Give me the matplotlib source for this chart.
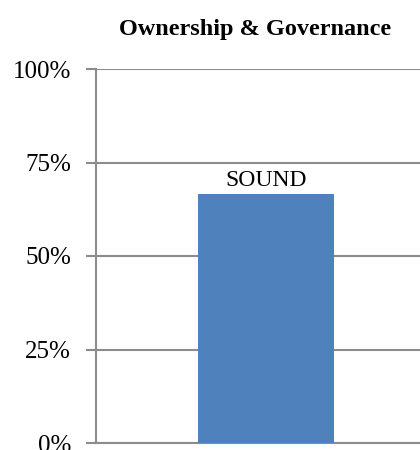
import matplotlib
matplotlib.use("Agg")
import matplotlib.pyplot as plt
from matplotlib.ticker import FuncFormatter

categories = ["Ownership & Governance"]
values = [66.7]
bar_labels = ["SOUND"]
yticks = [0, 25, 50, 75, 100]

plt.rcParams['font.family'] = ['Liberation Serif', 'DejaVu Serif']

fig = plt.figure(figsize=(4.2, 4.5), dpi=100)
ax = fig.add_axes([96/420, 1-443/450, 340/420, (443-69)/450])

grid_c = '#8c8c8c'
bars = ax.bar(range(len(values)), values, width=0.4, color='#4F81BD', zorder=3)
for b, lab in zip(bars, bar_labels):
    ax.text(b.get_x()+b.get_width()/2, b.get_height()+0.6, lab, ha='center', va='bottom',
            fontsize=17, color='#000000')

ax.set_xlim(-0.5, 0.5)
ax.set_ylim(0, 100)
ax.set_yticks(yticks)
ax.yaxis.set_major_formatter(FuncFormatter(lambda v, p: f"{int(v)}%"))
ax.set_xticks([])
ax.yaxis.grid(True, color=grid_c, linewidth=1.5, zorder=0)
ax.set_axisbelow(True)
for s in ['top', 'right']:
    ax.spines[s].set_visible(False)
for s in ['left', 'bottom']:
    ax.spines[s].set_color(grid_c)
    ax.spines[s].set_linewidth(1.5)
ax.tick_params(axis='y', length=7, width=1.5, color=grid_c, labelsize=18, pad=11)

fig.text(255/420, 1-30/450, categories[0], ha='center', va='center', fontsize=17.5, fontweight='bold')

fig.savefig('out.png', dpi=100)
